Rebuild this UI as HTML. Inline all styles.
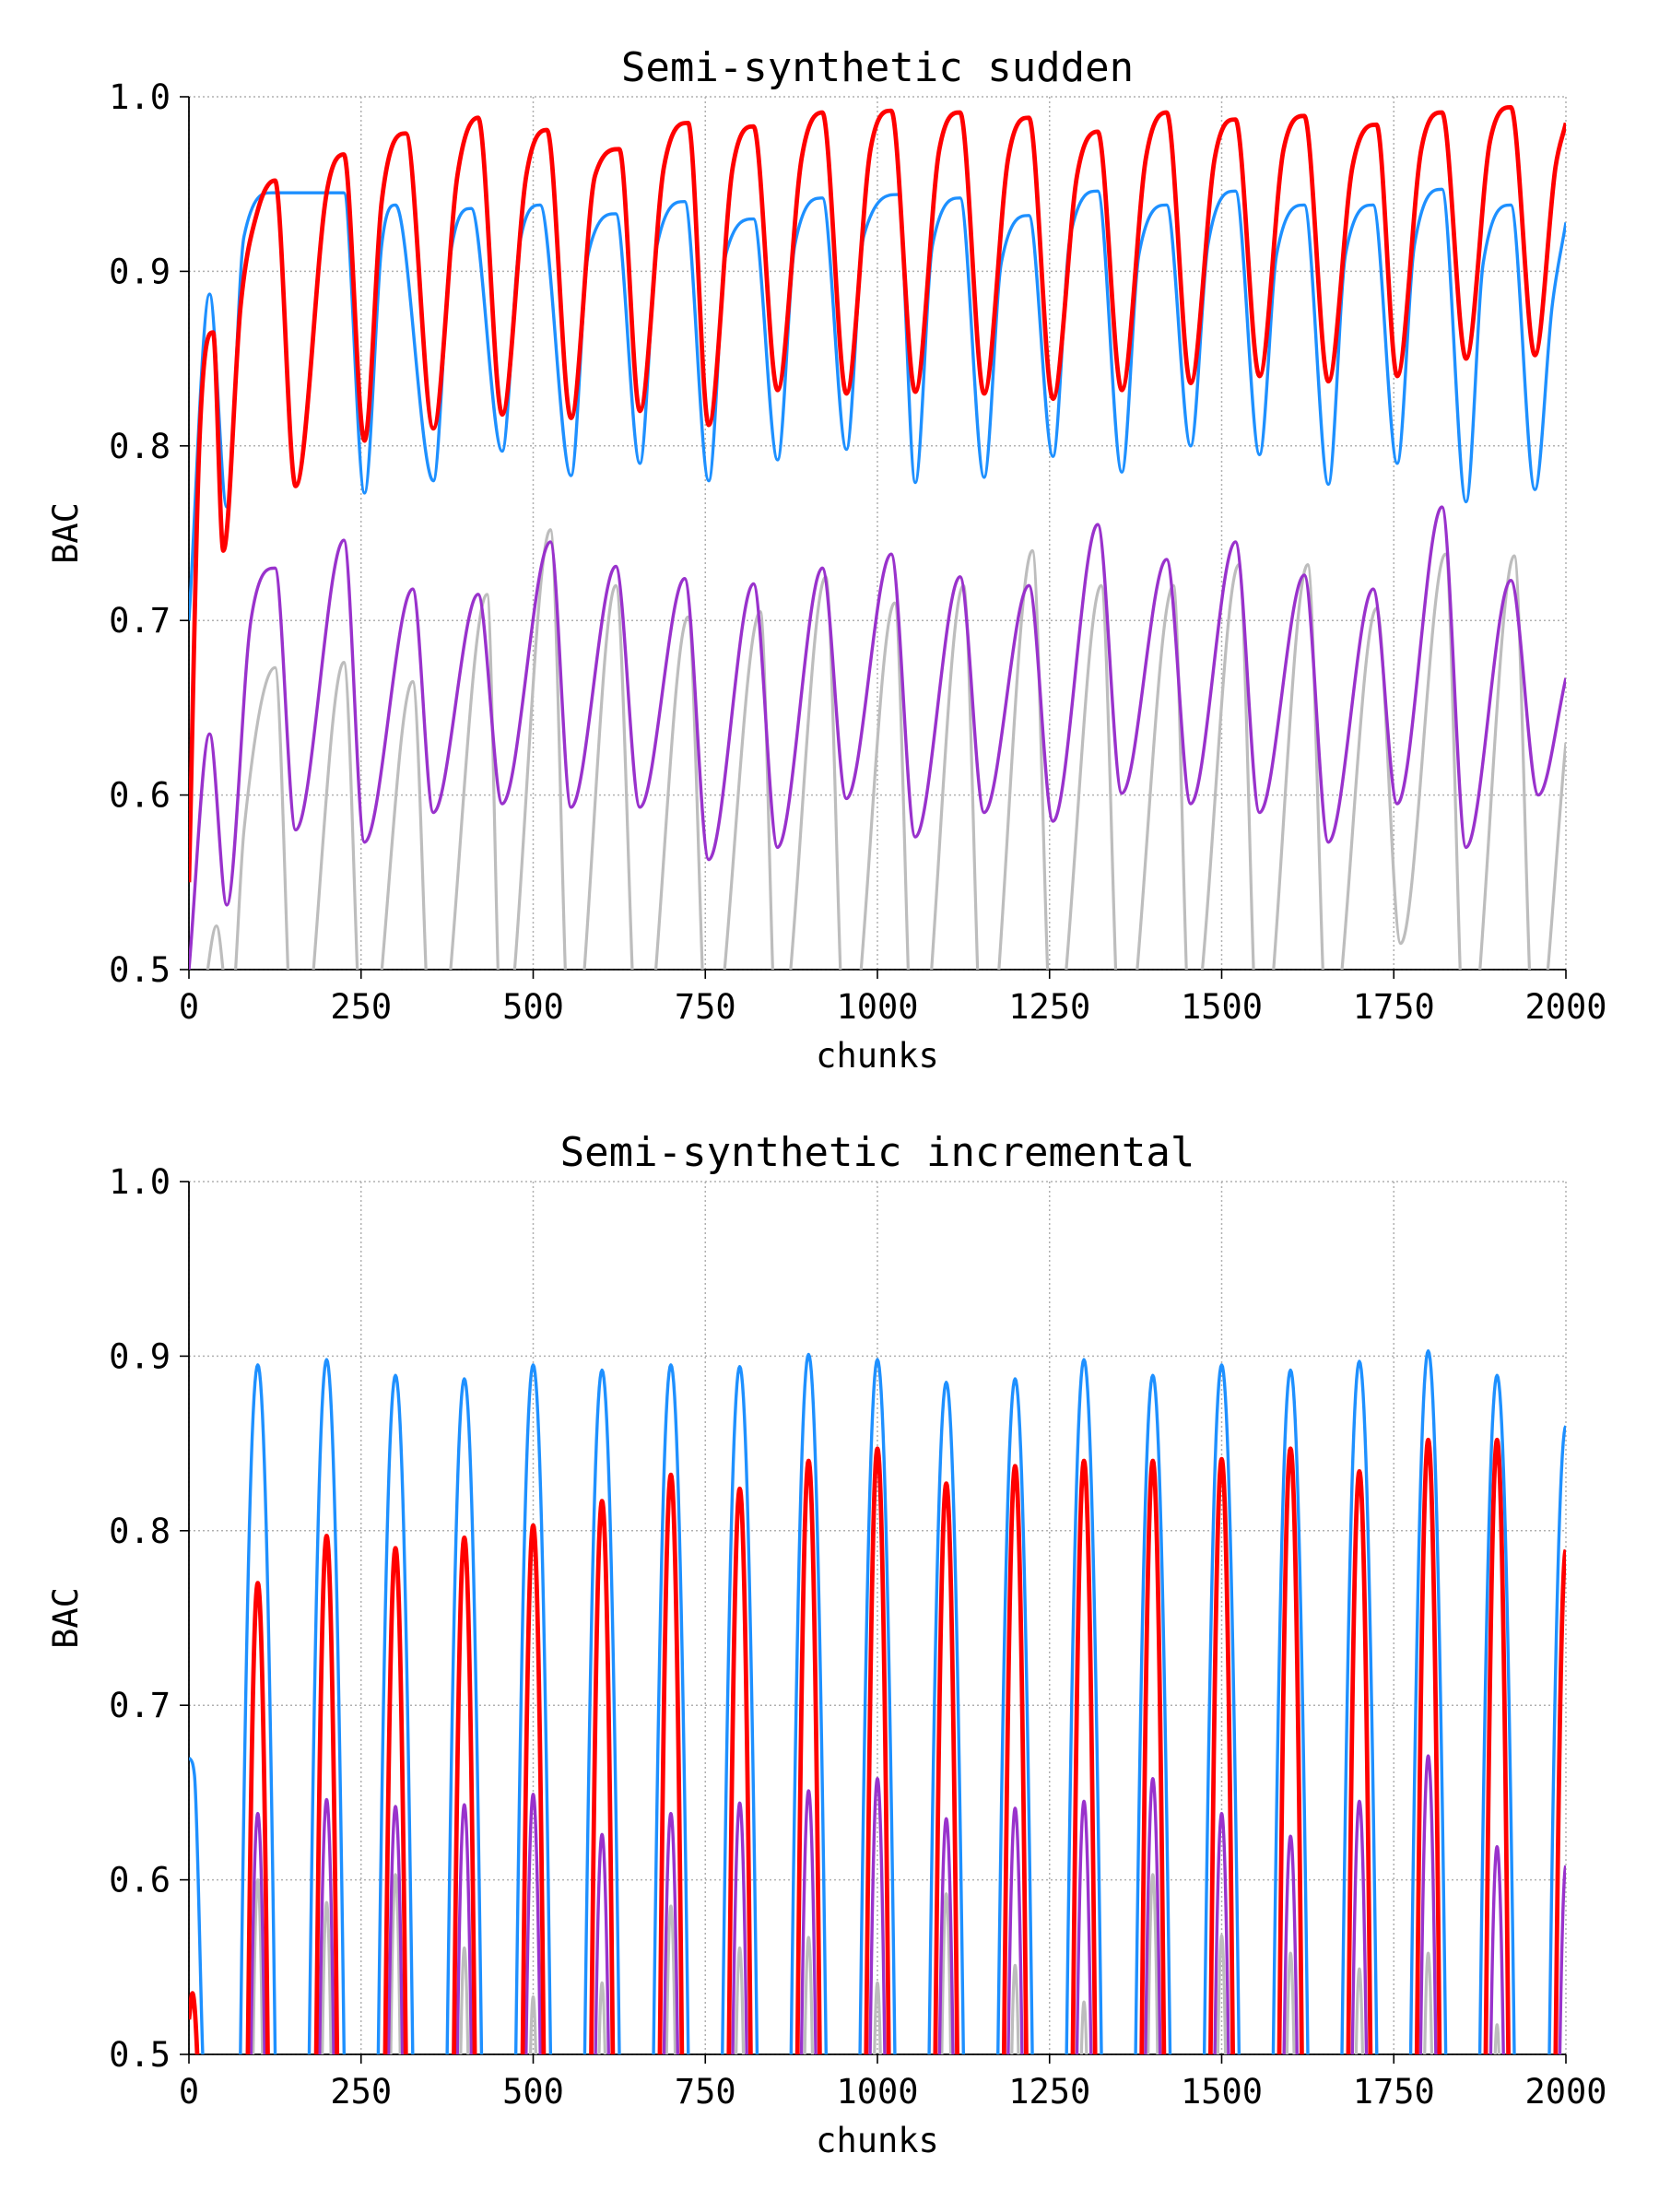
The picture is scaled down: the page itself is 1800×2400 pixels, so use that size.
<!DOCTYPE html>
<html><head><meta charset="utf-8"><style>
html,body{margin:0;padding:0;background:#fff}
svg{display:block}
text{font-family:"DejaVu Sans Mono","Liberation Mono",monospace;fill:#000}
</style></head><body>
<svg id="fig" width="1800" height="2400" viewBox="0 0 1800 2400" xmlns="http://www.w3.org/2000/svg">
<rect width="1800" height="2400" fill="#fff"/>
<defs>
<clipPath id="c1"><rect x="205" y="105" width="1494" height="947"/></clipPath>
<clipPath id="c2"><rect x="205" y="1282" width="1494" height="947"/></clipPath>
</defs>
<g id="topChart"></g>
<g id="botChart"></g>
</svg>
<script>
// ---- data: sudden chart (key points x, y) ----
const redSX = [0,15,35,50,75,100,125,155,200,225,255,280,315,355,390,420,455,490,520,555,590,625,655,690,725,755,790,820,855,890,920,955,990,1020,1055,1090,1120,1155,1190,1220,1255,1290,1320,1355,1390,1420,1455,1490,1520,1555,1590,1620,1655,1690,1725,1755,1790,1820,1855,1890,1920,1955,1985,2000];
const redSY = [0.55,0.80,0.865,0.74,0.88,0.935,0.952,0.777,0.945,0.967,0.803,0.94,0.979,0.81,0.955,0.988,0.818,0.955,0.981,0.816,0.955,0.97,0.82,0.96,0.985,0.812,0.96,0.983,0.832,0.965,0.991,0.83,0.97,0.992,0.831,0.97,0.991,0.83,0.965,0.988,0.827,0.955,0.98,0.832,0.965,0.991,0.836,0.965,0.987,0.84,0.97,0.989,0.837,0.96,0.984,0.84,0.97,0.991,0.85,0.975,0.994,0.852,0.96,0.985];
const blueSX = [0,30,55,80,120,225,255,280,300,355,380,410,455,480,510,555,580,620,655,680,720,755,780,820,855,880,920,955,980,1030,1055,1080,1120,1155,1180,1220,1255,1280,1320,1355,1380,1420,1455,1480,1520,1555,1580,1620,1655,1680,1720,1755,1780,1820,1855,1880,1920,1955,1980,2000];
const blueSY = [0.70,0.887,0.765,0.92,0.945,0.945,0.773,0.915,0.938,0.78,0.91,0.936,0.797,0.915,0.938,0.783,0.91,0.933,0.79,0.915,0.94,0.78,0.91,0.93,0.792,0.915,0.942,0.798,0.92,0.944,0.779,0.915,0.942,0.782,0.905,0.932,0.794,0.92,0.946,0.785,0.91,0.938,0.80,0.915,0.946,0.795,0.91,0.938,0.778,0.91,0.938,0.79,0.915,0.947,0.768,0.905,0.938,0.775,0.88,0.928];
const purpSX = [0,30,55,90,125,155,225,255,325,355,420,455,525,555,620,655,720,755,820,855,920,955,1020,1055,1120,1155,1220,1255,1320,1355,1420,1455,1520,1555,1620,1655,1720,1755,1820,1855,1920,1960,2000];
const purpSY = [0.50,0.635,0.537,0.70,0.73,0.58,0.746,0.573,0.718,0.59,0.715,0.595,0.745,0.593,0.731,0.593,0.724,0.563,0.721,0.57,0.73,0.598,0.738,0.576,0.725,0.59,0.72,0.585,0.755,0.601,0.735,0.595,0.745,0.59,0.726,0.573,0.718,0.595,0.765,0.57,0.723,0.60,0.667];
const graySX = [0,20,40,60,80,125,155,225,255,325,355,433,455,525,555,620,655,725,755,830,855,925,955,1025,1055,1125,1155,1225,1255,1325,1355,1430,1455,1525,1555,1625,1655,1725,1760,1825,1855,1925,1955,2000];
const graySY = [0.44,0.48,0.525,0.47,0.58,0.673,0.42,0.676,0.43,0.665,0.43,0.715,0.45,0.752,0.44,0.72,0.43,0.702,0.44,0.705,0.45,0.725,0.44,0.71,0.42,0.72,0.43,0.74,0.45,0.72,0.44,0.72,0.46,0.732,0.44,0.732,0.45,0.707,0.515,0.738,0.44,0.737,0.45,0.63];
// ---- data: incremental chart (spike peaks at chunks) ----
const spikeX = [100,200,300,400,500,600,700,800,900,1000,1100,1200,1300,1400,1500,1600,1700,1800,1900,2000];
const blueInc = [0.895,0.898,0.889,0.887,0.895,0.892,0.895,0.894,0.901,0.898,0.885,0.887,0.898,0.889,0.895,0.892,0.897,0.903,0.889,0.86];
const redInc = [0.77,0.797,0.79,0.796,0.803,0.817,0.832,0.824,0.84,0.847,0.827,0.837,0.84,0.84,0.841,0.847,0.834,0.852,0.852,0.789];
const purpInc = [0.638,0.646,0.642,0.643,0.649,0.626,0.638,0.644,0.651,0.658,0.635,0.641,0.645,0.658,0.638,0.625,0.645,0.671,0.619,0.608];
const grayInc = [0.60,0.587,0.603,0.561,0.533,0.541,0.585,0.561,0.567,0.541,0.592,0.551,0.53,0.603,0.568,0.558,0.549,0.558,0.517,0.45];
const xTicks = [0,250,500,750,1000,1250,1500,1750,2000];
const yTicks = [0.5,0.6,0.7,0.8,0.9,1.0];

const NS='http://www.w3.org/2000/svg';
const X0=205,X1=1699,H=947;
function mk(tag,attrs,parent){const e=document.createElementNS(NS,tag);for(const k in attrs)e.setAttribute(k,attrs[k]);parent.appendChild(e);return e;}
function sx(v){return X0+(v/2000)*(X1-X0);}
function mkY(t0){const b=t0+H;return v=>b-(v-0.5)/0.5*H;}

function axes(g,t0,title){
  const sy=mkY(t0);
  xTicks.forEach(t=>{
    const l=mk('line',{x1:sx(t),x2:sx(t),y1:t0,y2:t0+H,stroke:'#b0b0b0','stroke-width':1.5,'stroke-dasharray':'2,3'},g);
    
    
    const tk=mk('line',{x1:sx(t),x2:sx(t),y1:t0+H,y2:t0+H+10,stroke:'#000','stroke-width':1.6},g);
    
    
    const tx=mk('text',{x:sx(t),y:t0+H+53,'text-anchor':'middle','font-size':37},g);
    tx.textContent=t;
    
    
  });
  yTicks.forEach(t=>{
    const l=mk('line',{x1:X0,x2:X1,y1:sy(t),y2:sy(t),stroke:'#b0b0b0','stroke-width':1.5,'stroke-dasharray':'2,3'},g);
    
    
    const tk=mk('line',{x1:X0-10,x2:X0,y1:sy(t),y2:sy(t),stroke:'#000','stroke-width':1.6},g);
    
    
    const tx=mk('text',{x:X0-20,y:sy(t)+13,'text-anchor':'end','font-size':37},g);
    tx.textContent=t.toFixed(1);
    
    
  });
  const ax=mk('line',{x1:X0,x2:X0,y1:t0,y2:t0+H,stroke:'#000','stroke-width':1.8},g);
  
  
  const bx=mk('line',{x1:X0,x2:X1,y1:t0+H,y2:t0+H,stroke:'#000','stroke-width':1.8},g);
  
  
  const ti=mk('text',{x:(X0+X1)/2,y:t0-17,'text-anchor':'middle','font-size':44},g);
  ti.textContent=title;
  
  
  const xl=mk('text',{x:(X0+X1)/2,y:t0+H+106,'text-anchor':'middle','font-size':37},g);
  xl.textContent='chunks';
  
  
  const yl=mk('text',{x:0,y:0,'text-anchor':'middle','font-size':37,transform:`translate(84,${t0+H/2}) rotate(-90)`},g);
  yl.textContent='BAC';
  
  
}

function monotone(xs,ys){
  const n=xs.length,d=[],m=[];
  for(let i=0;i<n-1;i++)d.push((ys[i+1]-ys[i])/(xs[i+1]-xs[i]));
  for(let i=0;i<n;i++){
    if(i===0)m.push(d[0]);else if(i===n-1)m.push(d[n-2]);
    else m.push(d[i-1]*d[i]<=0?0:(d[i-1]+d[i])/2);
  }
  for(let i=0;i<n-1;i++){
    if(d[i]===0){m[i]=0;m[i+1]=0;continue;}
    const a=m[i]/d[i],b=m[i+1]/d[i],s=a*a+b*b;
    if(s>9){const t=3/Math.sqrt(s);m[i]=t*a*d[i];m[i+1]=t*b*d[i];}
  }
  return m;
}
function smoothPath(xs,ys,sy){
  const m=monotone(xs,ys);
  let p=`M${sx(xs[0]).toFixed(2)},${sy(ys[0]).toFixed(2)}`;
  for(let i=0;i<xs.length-1;i++){
    const h=xs[i+1]-xs[i];
    const c1x=xs[i]+h/3,c1y=ys[i]+m[i]*h/3,c2x=xs[i+1]-h/3,c2y=ys[i+1]-m[i+1]*h/3;
    p+=` C${sx(c1x).toFixed(2)},${sy(c1y).toFixed(2)} ${sx(c2x).toFixed(2)},${sy(c2y).toFixed(2)} ${sx(xs[i+1]).toFixed(2)},${sy(ys[i+1]).toFixed(2)}`;
  }
  return p;
}
function spikePath(peaks,k,sy){
  let p='';
  peaks.forEach((v,i)=>{
    const c=spikeX[i];
    const w=Math.sqrt(Math.max(v-0.44,0.001)/k);
    let first=true;
    for(let j=0;j<=40;j++){
      const dx=-w+j*w/20;
      const x=c+dx; if(x>2000)break;
      const y=v-k*dx*dx;
      p+=(first?'M':'L')+sx(x).toFixed(2)+','+sy(y).toFixed(2)+' ';
      first=false;
    }
  });
  return p;
}

const topG=document.getElementById('topChart'),botG=document.getElementById('botChart');
const T1=105,T2=1282;
axes(topG,T1,'Semi-synthetic sudden');
axes(botG,T2,'Semi-synthetic incremental');
const sy1=mkY(T1),sy2=mkY(T2);
const g1=mk('g',{'clip-path':'url(#c1)'},topG);
[[graySX,graySY,'#bdbdbd',3.2,'gray-series'],[purpSX,purpSY,'#9932cc',3.4,'purple-series'],[blueSX,blueSY,'#1e90ff',3.4,'blue-series'],[redSX,redSY,'#ff0000',4.8,'red-series']].forEach(s=>{
  const e=mk('path',{d:smoothPath(s[0],s[1],sy1),fill:'none',stroke:s[2],'stroke-width':s[3],'stroke-linejoin':'round'},g1);
  
  
});
const g2=mk('g',{'clip-path':'url(#c2)'},botG);
const bs=mk('path',{d:smoothPath([0,8,20,30],[0.67,0.66,0.5,0.4],sy2),fill:'none',stroke:'#1e90ff','stroke-width':3.4},g2);


const rs=mk('path',{d:smoothPath([0,5,12,18],[0.52,0.535,0.5,0.42],sy2),fill:'none',stroke:'#ff0000','stroke-width':4.8},g2);


[[grayInc,0.0022,'#bdbdbd',3.2,'gray-series'],[purpInc,0.0014,'#9932cc',3.4,'purple-series'],[blueInc,0.00062,'#1e90ff',3.4,'blue-series'],[redInc,0.0013,'#ff0000',4.8,'red-series']].forEach(s=>{
  const e=mk('path',{d:spikePath(s[0],s[1],sy2),fill:'none',stroke:s[2],'stroke-width':s[3],'stroke-linejoin':'round'},g2);
  
  
});
</script>
</body></html>
